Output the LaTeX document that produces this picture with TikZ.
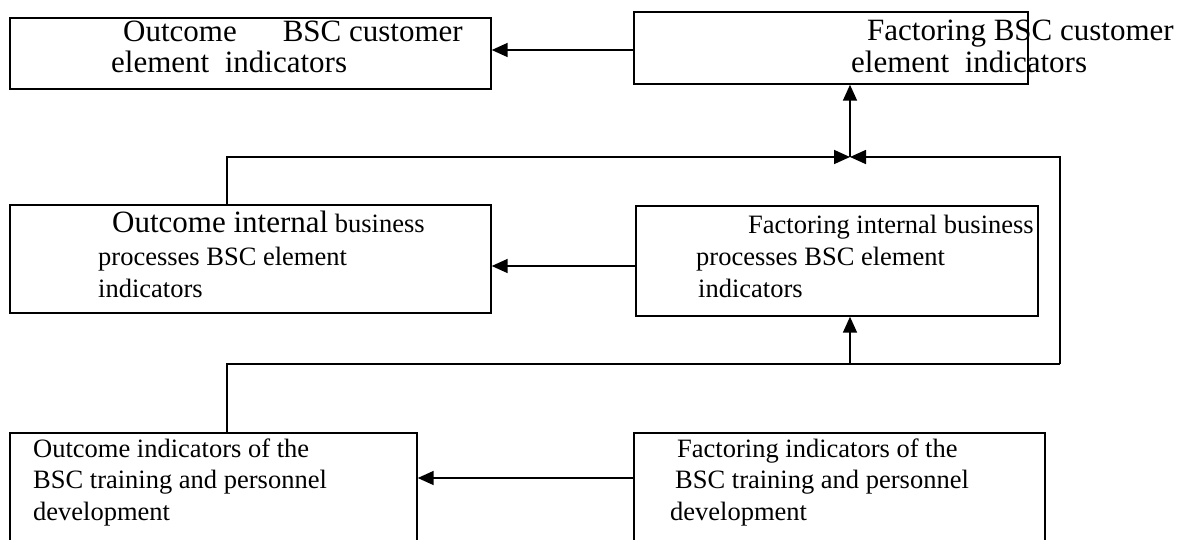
\documentclass[tikz,border=0pt]{standalone}
\usepackage{fontspec}
\setmainfont{Liberation Serif}
\usetikzlibrary{arrows.meta}
\begin{document}
\begin{tikzpicture}[x=1pt,y=-1pt,
  box/.style={draw, line width=1.4pt, inner sep=0pt},
  big/.style={inner sep=0pt, anchor=base west, font=\fontsize{31}{31}\selectfont},
  txt/.style={inner sep=0pt, anchor=base west, font=\fontsize{26.5}{32}\selectfont},
  link/.style={line width=1.7pt},
  arr/.style={link, -{Triangle[length=16pt,width=14pt]}}]
\useasboundingbox (0,0) rectangle (1192,539);

% boxes (outcome column on the left, factoring column on the right)
\node[box, minimum width=481pt, minimum height=71pt]  (A) at (250.5,53.5) {};
\node[box, minimum width=394pt, minimum height=72pt]  (B) at (831,48) {};
\node[box, minimum width=481pt, minimum height=108pt] (C) at (250.5,259) {};
\node[box, minimum width=402pt, minimum height=110pt] (D) at (837,261) {};
\node[box, minimum width=407pt, minimum height=130pt] (E) at (213.5,498) {};
\node[box, minimum width=411pt, minimum height=130pt] (F) at (839.5,498) {};

% box texts
\node[big] (tA1) at (123,41) {Outcome\hspace{46pt}BSC customer};
\node[big] (tA2) at (111,72) {element\ \ indicators};
\node[big] (tB1) at (867,40) {Factoring BSC customer};
\node[big] (tB2) at (851,72) {element\ \ indicators};
\node[txt] (tC1) at (112,232) {{\fontsize{31}{31}\selectfont Outcome internal} business};
\node[txt] (tC2) at (98,265) {processes BSC element};
\node[txt] (tC3) at (98,297) {indicators};
\node[txt] (tD1) at (748,233) {Factoring internal business};
\node[txt] (tD2) at (696,265) {processes BSC element};
\node[txt] (tD3) at (698,297) {indicators};
\node[txt] (tE1) at (33,457) {Outcome indicators of the};
\node[txt] (tE2) at (33,488) {BSC training and personnel};
\node[txt] (tE3) at (33,520) {development};
\node[txt] (tF1) at (677,457) {Factoring indicators of the};
\node[txt] (tF2) at (675,488) {BSC training and personnel};
\node[txt] (tF3) at (670,520) {development};

% routing points
\coordinate (j)  at (850,157);
\coordinate (r)  at (1060,157);
\coordinate (rb) at (1060,364);
\coordinate (lb) at (227,364);
\coordinate (db) at (850,364);
\coordinate (yA) at (0,50);
\coordinate (yC) at (0,266);
\coordinate (yE) at (0,478);

% horizontal links from factoring to outcome
\draw[arr] (B.west |- yA) -- (A.east |- yA);
\draw[arr] (D.west |- yC) -- (C.east |- yC);
\draw[arr] (F.west |- yE) -- (E.east |- yE);

% feedback loops into the junction below the customer box
\draw[arr] (C.north -| lb) |- (j);
\draw[link] (E.north -| lb) -- (lb) -- (rb);
\draw[arr] (rb) -- (r) -- (j);
\draw[arr] (j) -- (B.south -| j);
\draw[arr] (db) -- (D.south -| db);
\end{tikzpicture}
\end{document}
